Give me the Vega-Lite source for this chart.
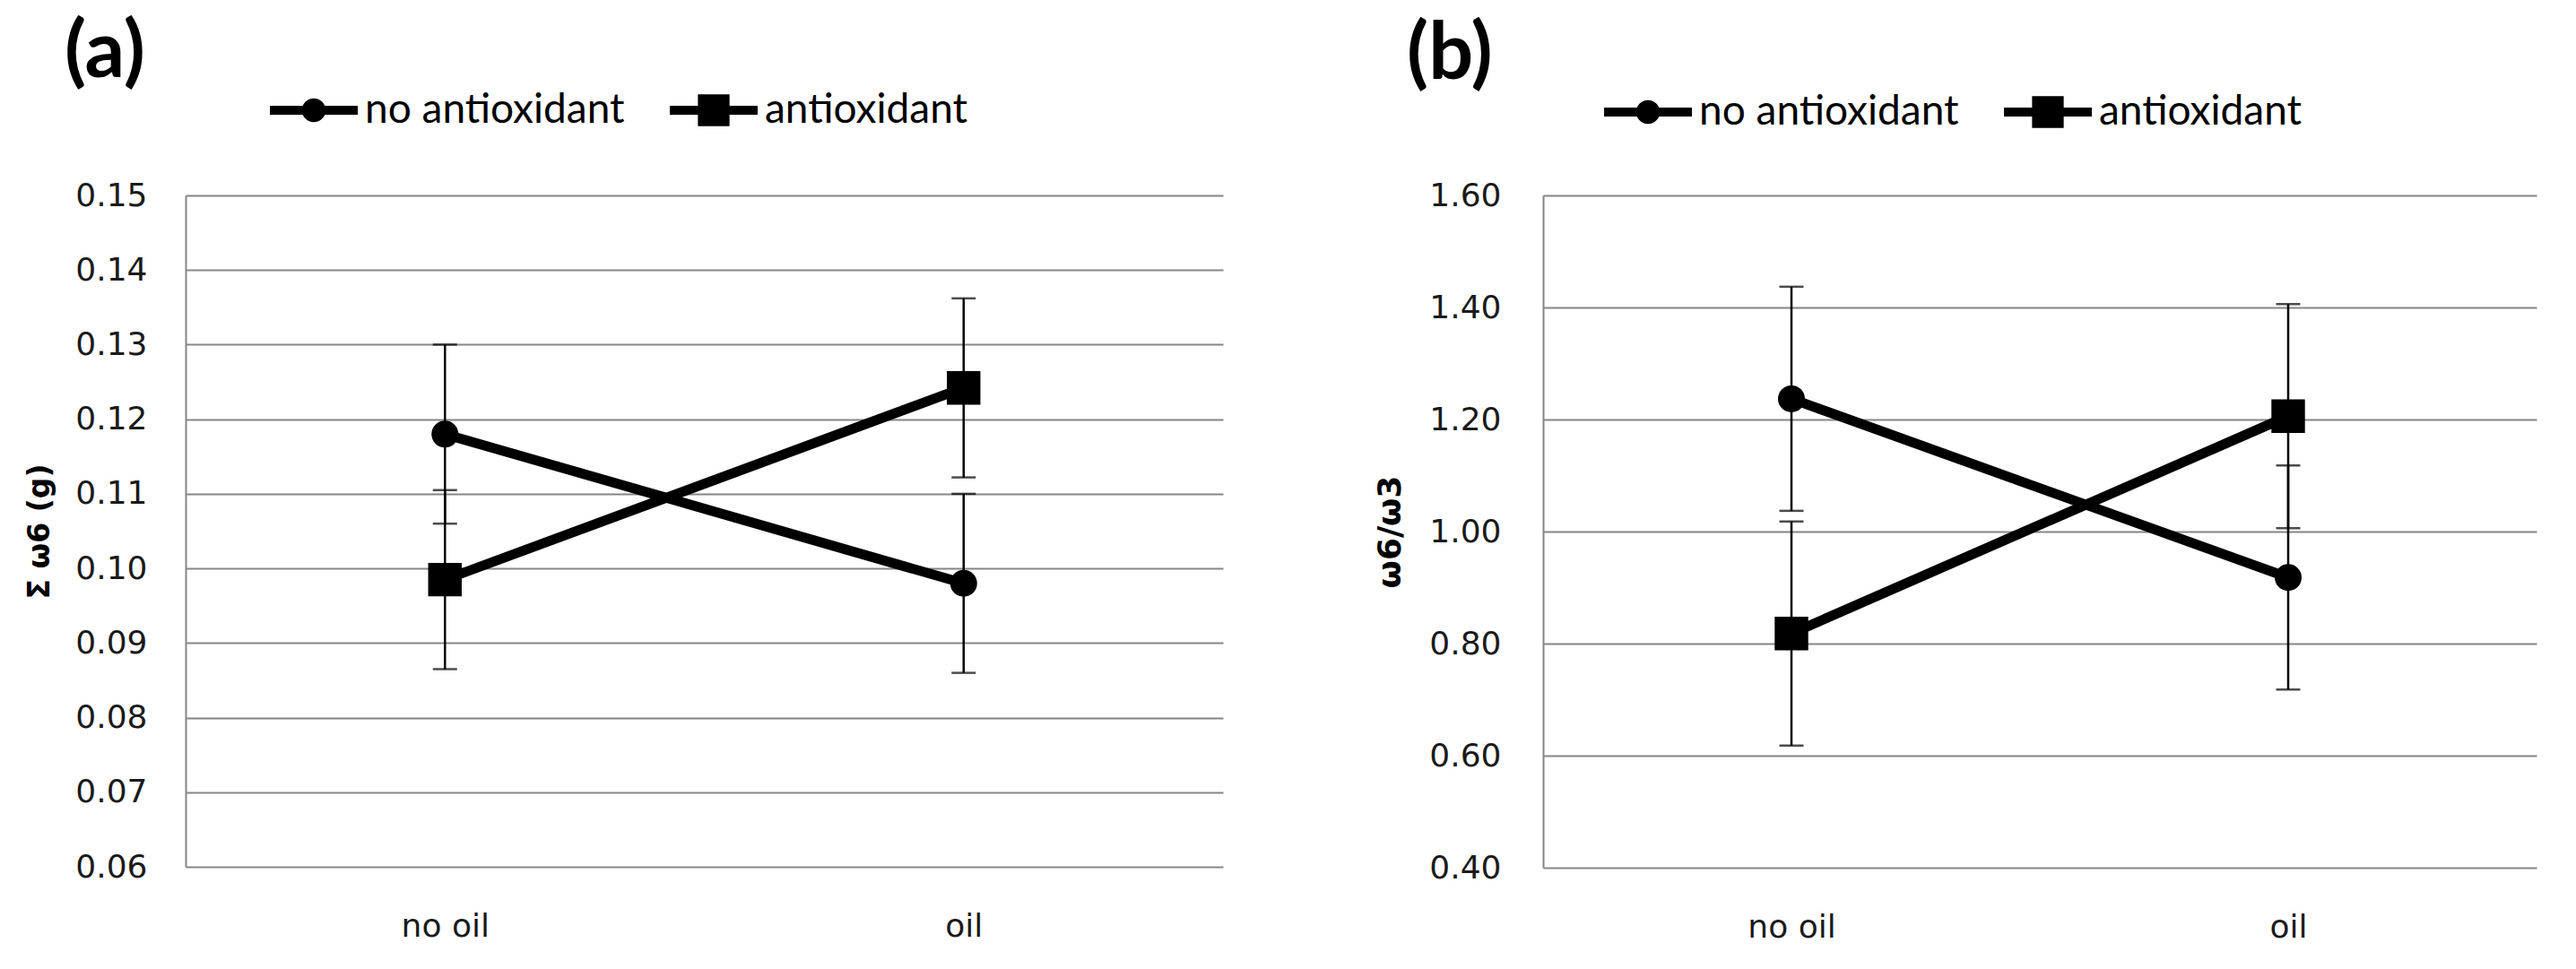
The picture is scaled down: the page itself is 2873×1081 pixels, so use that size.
{
  "$schema": "https://vega.github.io/schema/vega-lite/v6.json",
  "background": "white",
  "padding": {"left": 28, "top": 16, "right": 5, "bottom": 5},
  "spacing": 357,
  "bounds": "flush",
  "resolve": {"scale": {"shape": "independent"}, "legend": {"shape": "independent"}},
  "config": {
    "view": {"stroke": null},
    "axis": {
      "labelFont": "DejaVu Sans",
      "labelFontSize": 36,
      "labelColor": "#1a1a1a",
      "domainColor": "#868686",
      "gridColor": "#868686",
      "gridWidth": 2,
      "domainWidth": 2,
      "ticks": false,
      "titleFont": "DejaVu Sans",
      "titleFontWeight": "bold",
      "titleColor": "black"
    },
    "legend": {
      "symbolSize": 9604,
      "labelFont": "Lato",
      "labelFontSize": 46,
      "labelColor": "black",
      "labelOffset": 8,
      "labelLimit": 0,
      "columnPadding": 50,
      "padding": 0,
      "symbolStrokeWidth": 0,
      "symbolOpacity": 1
    },
    "title": {
      "font": "Lato",
      "fontSize": 88,
      "fontWeight": "bold",
      "color": "black",
      "anchor": "start",
      "frame": "group"
    }
  },
  "datasets": {
    "a": [
      {"oil": "no oil", "series": "no antioxidant", "mean": 0.118, "err": 0.012},
      {"oil": "oil", "series": "no antioxidant", "mean": 0.098, "err": 0.012},
      {"oil": "no oil", "series": "antioxidant", "mean": 0.0985, "err": 0.012},
      {"oil": "oil", "series": "antioxidant", "mean": 0.1242, "err": 0.012}
    ],
    "b": [
      {"oil": "no oil", "series": "no antioxidant", "mean": 1.237, "err": 0.2},
      {"oil": "oil", "series": "no antioxidant", "mean": 0.918, "err": 0.2},
      {"oil": "no oil", "series": "antioxidant", "mean": 0.818, "err": 0.2},
      {"oil": "oil", "series": "antioxidant", "mean": 1.206, "err": 0.2}
    ]
  },
  "hconcat": [
    {
      "width": 1157,
      "height": 749,
      "data": {"name": "a"},
      "title": {"text": "(a)", "dx": -135, "offset": -30},
      "encoding": {
        "x": {"field": "oil", "type": "nominal", "scale": {"type": "point", "padding": 0.5, "domain": ["no oil", "oil"]}, "axis": {"title": null, "labelAngle": 0, "domain": false, "grid": false, "labelPadding": 49}},
        "y": {"field": "mean", "type": "quantitative", "scale": {"domain": [0.06, 0.15], "nice": false, "zero": false}, "axis": {"values": [0.06, 0.07, 0.08, 0.09, 0.1, 0.11, 0.12, 0.13, 0.14, 0.15], "format": ".2f", "title": "Σ ω6 (g)", "titleFontSize": 33, "grid": true, "labelPadding": 43, "titlePadding": 22}}
      },
      "resolve": {"scale": {"shape": "independent"}, "legend": {"shape": "independent"}},
      "layer": [
        {"mark": {"type": "line", "color": "black", "strokeWidth": 11}, "encoding": {"detail": {"field": "series"}}},
        {"mark": {"type": "errorbar", "ticks": {"size": 27, "thickness": 2.5, "color": "black"}, "rule": {"strokeWidth": 2.5, "color": "black"}}, "encoding": {"yError": {"field": "err"}, "detail": {"field": "series"}}},
        {
          "transform": [{"filter": "datum.series === 'no antioxidant'"}],
          "mark": {"type": "point", "filled": true, "color": "black", "opacity": 1, "size": 900, "shape": "circle"}
        },
        {
          "transform": [{"filter": "datum.series === 'antioxidant'"}],
          "mark": {"type": "point", "filled": true, "color": "black", "opacity": 1, "size": 1400, "shape": "square"}
        },
        {
          "transform": [{"filter": "false"}],
          "mark": {"type": "point", "filled": true, "color": "black", "opacity": 1},
          "encoding": {
            "shape": {"field": "series", "type": "nominal",
              "scale": {"domain": ["no antioxidant", "antioxidant"], "range": ["M-1,-0.1H1V0.1H-1Z M0.27,0A0.27,0.27 0 1,1 -0.27,0A0.27,0.27 0 1,1 0.27,0Z", "M-1,-0.1H1V0.1H-1Z M-0.36,-0.36H0.36V0.36H-0.36Z"]},
              "legend": {"orient": "none", "direction": "horizontal", "title": null, "legendX": 94, "legendY": -144}}
          }
        }
      ]
    },
    {
      "width": 1108,
      "height": 750,
      "data": {"name": "b"},
      "title": {"text": "(b)", "dx": -152, "offset": -30},
      "encoding": {
        "x": {"field": "oil", "type": "nominal", "scale": {"type": "point", "padding": 0.5, "domain": ["no oil", "oil"]}, "axis": {"title": null, "labelAngle": 0, "domain": false, "grid": false, "labelPadding": 49}},
        "y": {"field": "mean", "type": "quantitative", "scale": {"domain": [0.4, 1.6], "nice": false, "zero": false}, "axis": {"values": [0.4, 0.6, 0.8, 1.0, 1.2, 1.4, 1.6], "format": ".2f", "title": "ω6/ω3", "titleFontSize": 36, "grid": true, "labelPadding": 47, "titlePadding": 24}}
      },
      "resolve": {"scale": {"shape": "independent"}, "legend": {"shape": "independent"}},
      "layer": [
        {"mark": {"type": "line", "color": "black", "strokeWidth": 11}, "encoding": {"detail": {"field": "series"}}},
        {"mark": {"type": "errorbar", "ticks": {"size": 27, "thickness": 2.5, "color": "black"}, "rule": {"strokeWidth": 2.5, "color": "black"}}, "encoding": {"yError": {"field": "err"}, "detail": {"field": "series"}}},
        {
          "transform": [{"filter": "datum.series === 'no antioxidant'"}],
          "mark": {"type": "point", "filled": true, "color": "black", "opacity": 1, "size": 900, "shape": "circle"}
        },
        {
          "transform": [{"filter": "datum.series === 'antioxidant'"}],
          "mark": {"type": "point", "filled": true, "color": "black", "opacity": 1, "size": 1400, "shape": "square"}
        },
        {
          "transform": [{"filter": "false"}],
          "mark": {"type": "point", "filled": true, "color": "black", "opacity": 1},
          "encoding": {
            "shape": {"field": "series", "type": "nominal",
              "scale": {"domain": ["no antioxidant", "antioxidant"], "range": ["M-1,-0.1H1V0.1H-1Z M0.27,0A0.27,0.27 0 1,1 -0.27,0A0.27,0.27 0 1,1 0.27,0Z", "M-1,-0.1H1V0.1H-1Z M-0.36,-0.36H0.36V0.36H-0.36Z"]},
              "legend": {"orient": "none", "direction": "horizontal", "title": null, "legendX": 68, "legendY": -142}}
          }
        }
      ]
    }
  ]
}
